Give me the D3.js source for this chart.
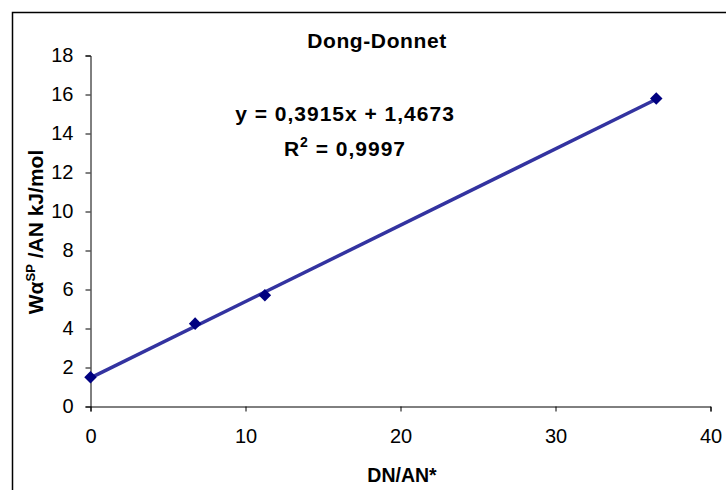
<!DOCTYPE html>
<html>
<head>
<meta charset="utf-8">
<script src="https://cdn.jsdelivr.net/npm/d3@7"></script>
<style>
	body { margin: 0; background: #fff; }
	svg { font-family: Arial, "Liberation Sans", sans-serif; }
	.axis path, .axis line { stroke: #000; }
	.axis text { font-size: 20px; fill: #000; }
</style>
</head>
<body>
<svg id="chart" width="726" height="490"></svg>
<script>

// data
var dnAn = [0, 6.75, 11.25, 36.5];
var waAn = [1.5, 4.25, 5.7, 15.8];
var xTicks = [0, 10, 20, 30, 40];
var yTicks = [0, 2, 4, 6, 8, 10, 12, 14, 16, 18];
var slope = 0.3915, intercept = 1.4673;


var svg = d3.select("#chart");

// outer frame, cut off at right and bottom like the reference
svg.append("rect")
	.attr("x", 12.5).attr("y", 12.5)
	.attr("width", 900).attr("height", 700)
	.attr("fill", "#fff")
	.attr("stroke", "#000")
	.attr("stroke-width", 1.5);

var x = d3.scaleLinear().domain([0, 40]).range([90.5, 710.5]);
var y = d3.scaleLinear().domain([0, 18]).range([406.5, 55.5]);

var xAxis = d3.axisBottom(x).tickValues(xTicks).tickSizeOuter(5).tickSize(5).tickPadding(17);
var yAxis = d3.axisLeft(y).tickValues(yTicks).tickSizeOuter(5).tickSize(5).tickPadding(12);

svg.append("g")
	.attr("class", "x axis")
	.attr("transform", "translate(0," + y(0) + ")")
	.call(xAxis);

svg.append("g")
	.attr("class", "y axis")
	.attr("transform", "translate(" + x(0) + ",0)")
	.call(yAxis);

// linear trendline from the fitted equation, over the data range
var trendX = [d3.min(dnAn), d3.max(dnAn)];
svg.append("line")
	.attr("x1", x(trendX[0])).attr("y1", y(slope * trendX[0] + intercept))
	.attr("x2", x(trendX[1])).attr("y2", y(slope * trendX[1] + intercept))
	.attr("stroke", "#3333a0")
	.attr("stroke-width", 3.5);

// diamond markers
svg.selectAll(".pt")
	.data(dnAn)
	.enter().append("path")
	.attr("class", "pt")
	.attr("d", d3.symbol().type(d3.symbolDiamond2).size(100))
	.attr("transform", function(d, i){ return "translate(" + x(d) + "," + y(waAn[i]) + ")"; })
	.attr("fill", "#000080");

// title and equation labels
svg.append("text")
	.attr("x", 377).attr("y", 48)
	.attr("text-anchor", "middle")
	.attr("font-size", 21).attr("font-weight", "bold")
	.attr("letter-spacing", 0.6)
	.text("Dong-Donnet");

svg.append("text")
	.attr("x", 345).attr("y", 121)
	.attr("text-anchor", "middle")
	.attr("font-size", 21).attr("font-weight", "bold")
	.attr("letter-spacing", 1)
	.text("y = 0,3915x + 1,4673");

var r2 = svg.append("text")
	.attr("x", 345).attr("y", 156)
	.attr("text-anchor", "middle")
	.attr("font-size", 21).attr("font-weight", "bold")
	.attr("letter-spacing", 1);
r2.append("tspan").text("R");
r2.append("tspan").attr("dy", -9).attr("font-size", 14).text("2");
r2.append("tspan").attr("dy", 9).text(" = 0,9997");

// axis titles
svg.append("text")
	.attr("x", 402).attr("y", 482)
	.attr("text-anchor", "middle")
	.attr("font-size", 19.5).attr("font-weight", "bold")
	.text("DN/AN*");

var yLab = svg.append("text")
	.attr("transform", "translate(43,232) rotate(-90)")
	.attr("text-anchor", "middle")
	.attr("font-size", 21).attr("font-weight", "bold");
yLab.append("tspan").text("Wα");
yLab.append("tspan").attr("dy", -8).attr("font-size", 13).text("SP");
yLab.append("tspan").attr("dy", 8).text(" /AN kJ/mol");

</script>
</body>
</html>
